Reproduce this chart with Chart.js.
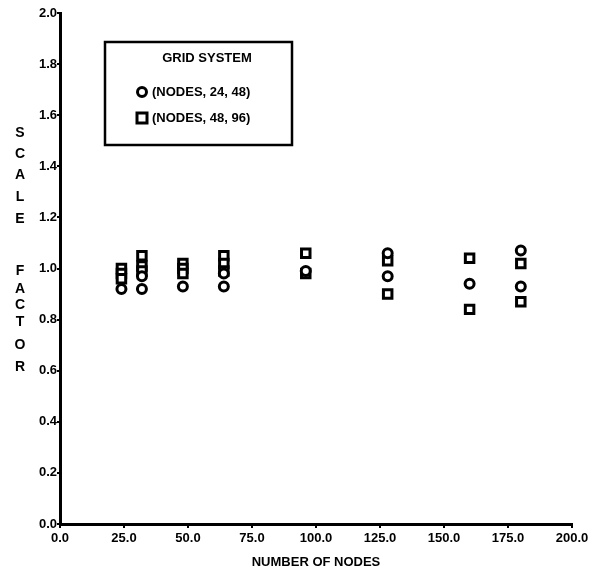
<!DOCTYPE html>
<html>
<head>
<meta charset="utf-8">
<script src="https://cdn.jsdelivr.net/npm/chart.js@4"></script>
<style>
html,body{margin:0;padding:0;background:#fff;}
#wrap{position:relative;width:609px;height:576px;}
</style>
</head>
<body>
<div id="wrap"><canvas id="c" width="609" height="576"></canvas></div>
<script>
// Data
const circleNodes = [24, 32, 32, 48, 64, 64, 96, 128, 128, 160, 180, 180];
const circleScale = [0.92, 0.92, 0.97, 0.93, 0.93, 0.98, 0.99, 1.06, 0.97, 0.94, 1.07, 0.93];
const squareNodes = [24, 24, 24, 32, 32, 32, 48, 48, 48, 64, 64, 64, 96, 96, 128, 128, 160, 160, 180, 180];
const squareScale = [1.00, 0.98, 0.96, 1.05, 1.01, 0.99, 1.02, 1.00, 0.98, 1.05, 1.02, 0.99, 1.06, 0.98, 1.03, 0.90, 1.04, 0.84, 1.02, 0.87];
const seriesLabels = ["(NODES, 24, 48)", "(NODES, 48, 96)"];
const legendTitle = "GRID SYSTEM";
const xTitle = "NUMBER OF NODES";
const yTitle = "SCALE FACTOR";

const toPts = (xs, ys) => xs.map((x, i) => ({x: x, y: ys[i]}));
const FONT = "'Liberation Sans', Arial, sans-serif";

const overlay = {
  id: 'overlay',
  afterDraw(chart) {
    const ctx = chart.ctx;
    const ca = chart.chartArea;
    ctx.save();
    ctx.fillStyle = '#000';
    ctx.strokeStyle = '#000';
    // x title
    ctx.font = 'bold 13px ' + FONT;
    ctx.textAlign = 'center';
    ctx.textBaseline = 'middle';
    ctx.fillText(xTitle, (ca.left + ca.right) / 2, 562);
    // y title stacked letters
    ctx.font = 'bold 14px ' + FONT;
    const yPos = [133, 154, 175, 197, 219, null, 271, 289, 305, 322, 345, 367];
    const letters = yTitle.split('');
    letters.forEach((ch, i) => { if (ch !== ' ' && yPos[i] != null) ctx.fillText(ch, 20, yPos[i]); });
    // legend box
    const bx = 105, by = 42, bw = 187, bh = 103;
    ctx.lineWidth = 2.5;
    ctx.strokeRect(bx, by, bw, bh);
    ctx.font = 'bold 13px ' + FONT;
    ctx.textAlign = 'center';
    ctx.fillText(legendTitle, 207, 58);
    ctx.textAlign = 'left';
    ctx.fillText(seriesLabels[0], 152, 92);
    ctx.fillText(seriesLabels[1], 152, 118);
    ctx.lineWidth = 3;
    ctx.beginPath(); ctx.arc(142, 92, 4.5, 0, Math.PI * 2); ctx.stroke();
    ctx.strokeRect(137, 113, 10, 10);
    ctx.restore();
  }
};

new Chart(document.getElementById('c'), {
  type: 'scatter',
  data: {
    datasets: [
      {
        label: seriesLabels[0],
        data: toPts(circleNodes, circleScale),
        pointStyle: 'circle',
        pointRadius: 4.5,
        pointBorderWidth: 3,
        borderColor: '#000',
        backgroundColor: '#fff'
      },
      {
        label: seriesLabels[1],
        data: toPts(squareNodes, squareScale),
        pointStyle: 'rect',
        pointRadius: 6,
        pointBorderWidth: 3,
        borderColor: '#000',
        backgroundColor: '#fff'
      }
    ]
  },
  options: {
    responsive: false,
    animation: false,
    layout: { padding: { left: 0, right: 37, top: 13, bottom: 0 } },
    plugins: { legend: { display: false }, tooltip: { enabled: false } },
    scales: {
      x: {
        type: 'linear',
        min: 0, max: 200,
        afterFit(s) { s.height = 52; },
        border: { display: true, color: '#000', width: 3 },
        grid: { display: true, drawOnChartArea: false, color: '#000', lineWidth: 2, tickLength: 4 },
        ticks: {
          stepSize: 25, color: '#000', padding: 3,
          font: { family: FONT, size: 13, weight: 'bold' },
          callback: v => v.toFixed(1)
        }
      },
      y: {
        min: 0, max: 2.0,
        afterFit(s) { s.width = 60; },
        border: { display: true, color: '#000', width: 3 },
        grid: { display: true, drawOnChartArea: false, color: '#000', lineWidth: 2, tickLength: 3 },
        ticks: {
          stepSize: 0.2, color: '#000', padding: 0,
          font: { family: FONT, size: 13, weight: 'bold' },
          callback: v => v.toFixed(1)
        }
      }
    }
  },
  plugins: [overlay]
});
</script>
</body>
</html>
